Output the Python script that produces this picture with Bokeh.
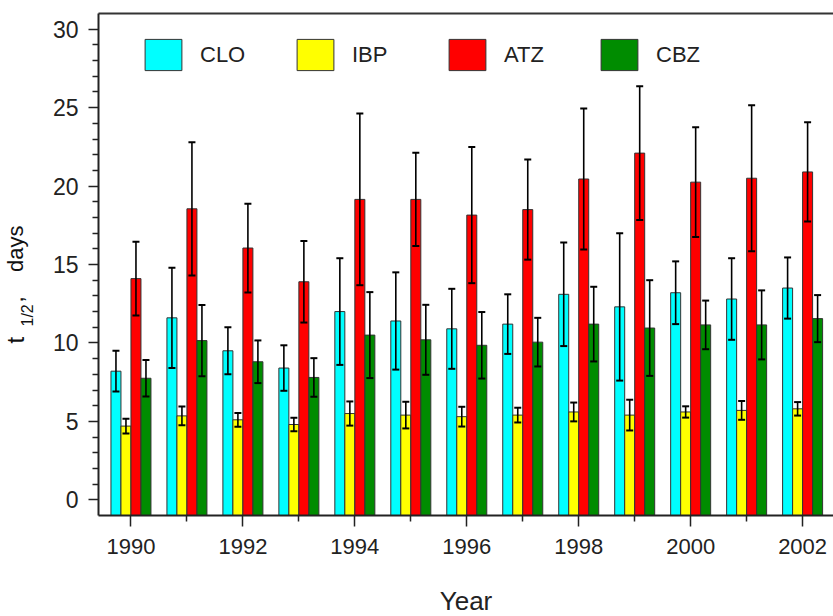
import math
from bokeh.plotting import figure
from bokeh.layouts import row
from bokeh.models import (Range1d, FixedTicker, LinearAxis, Legend, LegendItem,
                          Whisker, TeeHead, ColumnDataSource)
from bokeh.core.properties import value
from bokeh.embed import file_html
from bokeh.resources import INLINE

# ---------------- data ----------------
years = list(range(1990, 2003))
series = ["CLO", "IBP", "ATZ", "CBZ"]
clo = [8.2, 11.6, 9.5, 8.4, 12.0, 11.4, 10.9, 11.2, 13.1, 12.3, 13.2, 12.8, 13.5]
clo_err = [1.3, 3.2, 1.5, 1.45, 3.4, 3.1, 2.55, 1.9, 3.3, 4.7, 2.0, 2.6, 1.95]
ibp = [4.7, 5.35, 5.1, 4.8, 5.5, 5.4, 5.3, 5.4, 5.6, 5.4, 5.6, 5.7, 5.8]
ibp_err = [0.47, 0.6, 0.44, 0.43, 0.77, 0.85, 0.63, 0.47, 0.6, 0.98, 0.36, 0.6, 0.43]
atz = [14.1, 18.55, 16.05, 13.9, 19.15, 19.15, 18.15, 18.5, 20.45, 22.1, 20.25, 20.5, 20.9]
atz_err = [2.35, 4.25, 2.83, 2.6, 5.47, 2.97, 4.34, 3.19, 4.5, 4.27, 3.5, 4.65, 3.16]
cbz = [7.75, 10.15, 8.8, 7.8, 10.5, 10.2, 9.85, 10.05, 11.2, 10.95, 11.15, 11.15, 11.55]
cbz_err = [1.17, 2.27, 1.36, 1.23, 2.74, 2.23, 2.12, 1.55, 2.38, 3.05, 1.55, 2.2, 1.5]
x_major = [1990, 1992, 1994, 1996, 1998, 2000, 2002]
x_minor = [1991, 1993, 1995, 1997, 1999, 2001]
y_major = [0, 5, 10, 15, 20, 25, 30]
y_minor = [v for v in range(1, 30) if v % 5 != 0]
ylabel_parts = ["t", "1/2", ",\u00a0\u00a0\u00a0\u00a0days"]

values = [clo, ibp, atz, cbz]
errors = [clo_err, ibp_err, atz_err, cbz_err]
colors = ["#00FFFF", "#FFFF00", "#FF0000", "#008C00"]

# ---------------- layout ----------------
PX_PER_YEAR = 55.97
LEFT_W = 45
FRAME_W, FRAME_H = 735, 502
TOTAL_H = 615
X0 = 1989.42
x_end = X0 + FRAME_W / PX_PER_YEAR
BAR_W = 0.1787
offsets = [-1.5 * BAR_W, -0.5 * BAR_W, 0.5 * BAR_W, 1.5 * BAR_W]
FONT = "Liberation Sans"
TXT = "#222222"

p = figure(frame_width=FRAME_W, frame_height=FRAME_H,
           x_range=Range1d(X0, x_end), y_range=Range1d(-1, 31),
           output_backend="svg", toolbar_location=None,
           min_border_left=98 - LEFT_W, min_border_right=0, min_border_top=13,
           min_border_bottom=TOTAL_H - 13 - FRAME_H)
p.outline_line_color = None
p.xgrid.visible = False
p.ygrid.visible = False

renderers = []
for name, vals, errs, col, off in zip(series, values, errors, colors, offsets):
    xs = [y + off for y in years]
    src = ColumnDataSource(dict(x=xs, top=vals,
                                upper=[v + e for v, e in zip(vals, errs)],
                                lower=[v - e for v, e in zip(vals, errs)]))
    r = p.vbar(x="x", top="top", bottom=-1, width=BAR_W, source=src,
               fill_color=col, line_color="#333333", line_width=1)
    renderers.append(r)
    w = Whisker(source=src, base="x", upper="upper", lower="lower",
                dimension="height", line_color="black", line_width=1.6,
                upper_head=TeeHead(size=7, line_width=2, line_color="black"),
                lower_head=TeeHead(size=7, line_width=2, line_color="black"),
                level="overlay")
    p.add_layout(w)

for ax in (p.xaxis[0], p.yaxis[0]):
    ax.axis_line_width = 2
    ax.axis_line_color = "#222222"
    ax.major_tick_line_color = "#222222"
    ax.minor_tick_line_color = "#222222"
    ax.major_tick_line_width = 1.5
    ax.minor_tick_line_width = 1.5
    ax.major_tick_in = 0
    ax.minor_tick_in = 0
    ax.major_label_text_font = FONT
    ax.major_label_text_font_size = "22px"
    ax.major_label_text_color = TXT

p.xaxis.ticker = FixedTicker(ticks=x_major, minor_ticks=x_minor)
p.xaxis.major_tick_out = 11
p.xaxis.minor_tick_out = 6
p.xaxis.major_label_standoff = 12
p.xaxis.axis_label = "Year"
p.xaxis.axis_label_text_font = FONT
p.xaxis.axis_label_text_font_size = "26px"
p.xaxis.axis_label_text_font_style = "normal"
p.xaxis.axis_label_text_color = TXT
p.xaxis.axis_label_standoff = 29

p.yaxis.ticker = FixedTicker(ticks=y_major, minor_ticks=y_minor)
p.yaxis.major_tick_out = 10
p.yaxis.minor_tick_out = 6
p.yaxis.major_label_standoff = 10
p.yaxis.major_label_text_font_size = "23px"

top = LinearAxis(ticker=FixedTicker(ticks=[]), major_tick_out=0, minor_tick_out=0,
                 major_tick_in=0, minor_tick_in=0, major_label_standoff=0,
                 axis_line_width=2, axis_line_color="#333333",
                 major_label_text_font_size="0px")
p.add_layout(top, "above")

legend = Legend(items=[LegendItem(label=n, renderers=[r]) for n, r in zip(series, renderers)],
                orientation="horizontal", location=(42, FRAME_H - 22 - 39),
                glyph_width=46, glyph_height=39, label_standoff=14, label_width=80,
                spacing=12, padding=0, margin=0, border_line_color=None,
                background_fill_alpha=0, label_text_font=FONT,
                label_text_font_size="22px", label_text_color=TXT)
p.add_layout(legend, "center")

# ---- narrow panel holding the rotated y-axis title (t with subscript 1/2) ----
lab = figure(frame_width=LEFT_W, frame_height=TOTAL_H,
             x_range=Range1d(0, LEFT_W), y_range=Range1d(0, TOTAL_H),
             output_backend="svg", toolbar_location=None,
             min_border_left=0, min_border_right=0, min_border_top=0,
             min_border_bottom=0)
lab.axis.visible = False
lab.grid.visible = False
lab.outline_line_color = None

def ty(page_y):
    return TOTAL_H - page_y

specs = [  # (anchor x, anchor page y, font size, align), calibrated by eye
    (15, 330, "24px", "left"),
    (27, 313, "16px", "left"),
    (15, 212, "22px", "right"),
]
for part, (bx, by, fs, al) in zip(ylabel_parts, specs):
    lab.text(x=[bx], y=[ty(by)], text=[part], angle=math.pi / 2,
             text_font=value(FONT), text_font_size=fs, text_color="#111111",
             text_align=al, text_baseline="alphabetic")

layout = row(lab, p, spacing=0)
open("out.html", "w").write(file_html(layout, INLINE))
